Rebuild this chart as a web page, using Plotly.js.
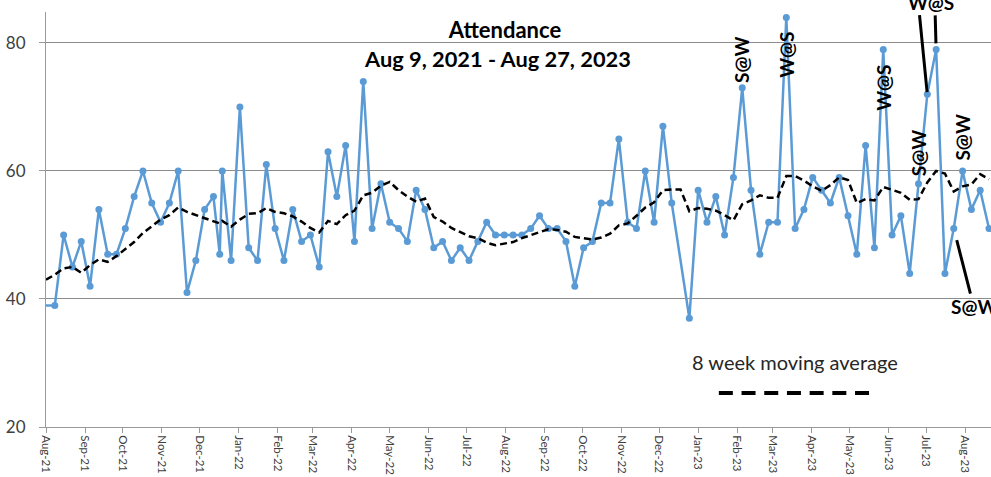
<!DOCTYPE html>
<html>
<head>
<meta charset="utf-8">
<script src="https://cdn.plot.ly/plotly-3.0.1.min.js"></script>
<style>html,body{margin:0;padding:0;background:#fff;}#chart{width:991px;height:477px;}</style>
</head>
<body>
<div id="chart"></div>
<script>
// Weekly service dates (Sundays; one extra mid-December 2021 entry; Dec 18 2022 has no count)
const dates = [
 '2021-08-01','2021-08-08','2021-08-15','2021-08-22','2021-08-29','2021-09-05','2021-09-12','2021-09-19','2021-09-26',
 '2021-10-03','2021-10-10','2021-10-17','2021-10-24','2021-10-31','2021-11-07','2021-11-14','2021-11-21','2021-11-28',
 '2021-12-05','2021-12-12','2021-12-17','2021-12-19','2021-12-26','2022-01-02','2022-01-09','2022-01-16','2022-01-23',
 '2022-01-30','2022-02-06','2022-02-13','2022-02-20','2022-02-27','2022-03-06','2022-03-13','2022-03-20','2022-03-27',
 '2022-04-03','2022-04-10','2022-04-17','2022-04-24','2022-05-01','2022-05-08','2022-05-15','2022-05-22','2022-05-29',
 '2022-06-05','2022-06-12','2022-06-19','2022-06-26','2022-07-03','2022-07-10','2022-07-17','2022-07-24','2022-07-31',
 '2022-08-07','2022-08-14','2022-08-21','2022-08-28','2022-09-04','2022-09-11','2022-09-18','2022-09-25','2022-10-02',
 '2022-10-09','2022-10-16','2022-10-23','2022-10-30','2022-11-06','2022-11-13','2022-11-20','2022-11-27','2022-12-04',
 '2022-12-11','2022-12-18','2022-12-25','2023-01-01','2023-01-08','2023-01-15','2023-01-22','2023-01-29','2023-02-05',
 '2023-02-12','2023-02-19','2023-02-26','2023-03-05','2023-03-12','2023-03-19','2023-03-26','2023-04-02','2023-04-09',
 '2023-04-16','2023-04-23','2023-04-30','2023-05-07','2023-05-14','2023-05-21','2023-05-28','2023-06-04','2023-06-11',
 '2023-06-18','2023-06-25','2023-07-02','2023-07-09','2023-07-16','2023-07-23','2023-07-30','2023-08-06','2023-08-13',
 '2023-08-20'
];

const attendance = [
 39,39,50,45,49,42,54,47,47,
 51,56,60,55,52,55,60,41,46,
 54,56,47,60,46,70,48,46,61,
 51,46,54,49,50,45,63,56,64,
 49,74,51,58,52,51,49,57,54,
 48,49,46,48,46,49,52,50,50,
 50,50,51,53,51,51,49,42,48,
 49,55,55,65,52,51,60,52,67,
 55,null,37,57,52,56,50,59,73,
 57,47,52,52,84,51,54,59,57,
 55,59,53,47,64,48,79,50,53,
 44,58,72,79,44,51,60,54,57,
 51
];

const movingAvg = [
 43.0,43.8,44.8,45.0,44.1,45.3,46.2,45.8,46.7,
 47.8,48.9,50.3,51.4,52.4,53.1,54.3,53.6,53.1,
 52.6,52.1,51.8,52.2,51.3,52.4,53.3,53.4,54.2,
 53.6,53.4,52.9,52.1,51.1,50.4,52.2,51.7,53.1,
 53.8,56.2,56.6,57.7,58.3,57.0,56.0,55.2,55.7,
 52.8,52.1,51.1,50.4,49.8,49.5,48.8,48.4,48.6,
 48.9,49.5,50.0,50.5,50.9,50.8,50.5,49.7,49.5,
 49.3,49.6,50.2,51.5,51.8,53.0,54.3,55.1,57.0,
 57.1,57.1,53.7,54.2,54.1,53.8,53.1,52.3,54.8,
 55.4,56.2,55.8,55.8,59.2,59.2,58.5,57.6,56.9,
 57.8,59.0,58.6,55.0,55.6,55.4,57.5,57.1,56.6,
 55.5,55.6,58.2,60.0,59.6,56.8,57.6,57.9,59.5,
 58.7
];

// Game-day labels attached to specific weeks
const labelDates = ['2023-02-05','2023-03-12','2023-05-28','2023-06-25','2023-07-30'];
const labelTexts = ['S@W','W@S','W@S','S@W','S@W'];
const labelShift = [28, -37, -38, 30, 33];

const titleText = 'Attendance';
const subtitleText = 'Aug 9, 2021 - Aug 27, 2023';
const legendText = '8 week moving average';

function valueAt(d){ return attendance[dates.indexOf(d)]; }

// the first week sits on the axis edge: its line is drawn, its marker is not
const visibleDates = dates.slice(1);
const visibleAttendance = attendance.slice(1);

const traces = [
  {
    x: dates, y: attendance, type: 'scatter', mode: 'lines',
    connectgaps: true,
    line: {color: '#5B9BD5', width: 2.5},
    hoverinfo: 'skip'
  },
  {
    x: visibleDates, y: visibleAttendance, type: 'scatter', mode: 'markers',
    marker: {color: '#5B9BD5', size: 7},
    hoverinfo: 'x+y'
  },
  {
    x: dates, y: movingAvg, type: 'scatter', mode: 'lines',
    line: {color: '#000000', width: 2.5, dash: '7px,4px'},
    hoverinfo: 'x+y'
  }
];

const boldFont = {family: 'Lato, "Open Sans", sans-serif', size: 19, color: '#000'};

const annotations = [];
labelDates.forEach((d, i) => {
  annotations.push({
    x: d, y: valueAt(d), xref: 'x', yref: 'y',
    text: '<b>' + labelTexts[i] + '</b>', textangle: -90,
    showarrow: false, yshift: labelShift[i],
    xanchor: 'center', yanchor: 'middle', font: boldFont
  });
});
// Top label pointing at two consecutive weeks
annotations.push({
  x: '2023-07-05', y: 1.024, xref: 'x', yref: 'paper',
  text: '<b>W@S</b>', showarrow: false, xanchor: 'center', yanchor: 'middle', font: boldFont
});
annotations.push({
  x: '2023-07-02', y: valueAt('2023-07-02'), xref: 'x', yref: 'y',
  text: ' ', showarrow: true, arrowhead: 0, arrowwidth: 3, arrowcolor: '#000',
  ax: -8, ay: -81, standoff: 2, font: {size: 1}
});
annotations.push({
  x: '2023-07-09', y: valueAt('2023-07-09'), xref: 'x', yref: 'y',
  text: ' ', showarrow: true, arrowhead: 0, arrowwidth: 3, arrowcolor: '#000',
  ax: -1, ay: -36, standoff: 6, font: {size: 1}
});
// Bottom-right label
annotations.push({
  x: '2023-07-23', y: valueAt('2023-07-23'), xref: 'x', yref: 'y',
  text: '<b>S@W</b>', showarrow: true, arrowhead: 0, arrowwidth: 3, arrowcolor: '#000',
  ax: 20, ay: 78, standoff: 12, font: boldFont
});
// Subtitle
annotations.push({
  x: 0.478, y: 0.889, xref: 'paper', yref: 'paper',
  text: '<b>' + subtitleText + '</b>', showarrow: false,
  xanchor: 'center', yanchor: 'middle',
  font: {family: 'Lato, "Open Sans", sans-serif', size: 21.8, color: '#000'}
});
// Legend-like caption
annotations.push({
  x: 0.7926, y: 0.157, xref: 'paper', yref: 'paper',
  text: legendText, showarrow: false, xanchor: 'center', yanchor: 'middle',
  font: {family: 'Lato, "Open Sans", sans-serif', size: 20, color: '#262626'}
});

const layout = {
  width: 991, height: 477,
  margin: {l: 46, r: 0, t: 12, b: 50, pad: 0},
  paper_bgcolor: '#fff', plot_bgcolor: '#fff',
  showlegend: false,
  title: {
    text: '<b>' + titleText + '</b>',
    xref: 'container', yref: 'container', x: 0.5096, y: 0.937,
    xanchor: 'center', yanchor: 'middle',
    font: {family: 'Lato, "Open Sans", sans-serif', size: 22, color: '#000'}
  },
  xaxis: {
    type: 'date',
    range: ['2021-08-01', '2023-08-21 14:00'],
    tick0: '2021-08-01', dtick: 'M1', tickformat: '%b-%y',
    tickangle: 90,
    showgrid: false, zeroline: false,
    showline: true, linecolor: '#9a9a9a', linewidth: 1,
    ticks: 'outside', ticklen: 5, tickcolor: '#9a9a9a',
    tickfont: {family: 'Lato, "Open Sans", sans-serif', size: 11.5, color: '#404040'}
  },
  yaxis: {
    range: [20, 84.84],
    tick0: 20, dtick: 20,
    showgrid: true, gridcolor: '#8c8c8c', gridwidth: 1,
    zeroline: false,
    showline: true, linecolor: '#9a9a9a', linewidth: 1,
    ticks: 'outside', ticklen: 6, tickcolor: '#9a9a9a',
    ticklabelstandoff: 10,
    tickfont: {family: 'Lato, "Open Sans", sans-serif', size: 17, color: '#404040'}
  },
  shapes: [{
    type: 'line', xref: 'paper', yref: 'paper',
    x0: 0.712, x1: 0.871, y0: 0.082, y1: 0.082,
    line: {color: '#000', width: 4, dash: '14px,8.7px'}
  }],
  annotations: annotations
};

Plotly.newPlot('chart', traces, layout, {displayModeBar: false, staticPlot: true});
</script>
</body>
</html>
